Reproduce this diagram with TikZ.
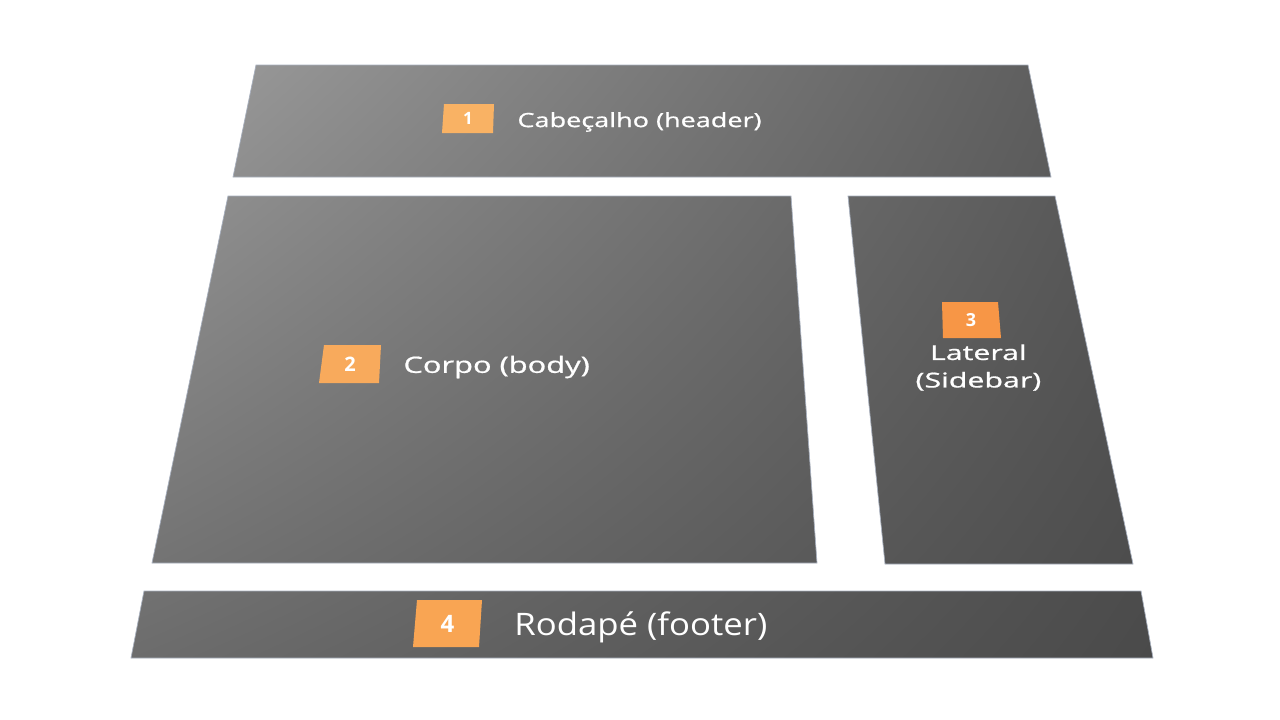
\documentclass[tikz,border=0pt]{standalone}
\usepackage{fontspec}
\setmainfont{Open Sans}
\newfontfamily\semifont{Open Sans}[FakeBold=0.7]
\usetikzlibrary{positioning,shadings}

\definecolor{shadeUL}{gray}{0.68}
\definecolor{shadeUR}{gray}{0.31}
\definecolor{shadeLL}{gray}{0.42}
\definecolor{shadeLR}{gray}{0.27}
\definecolor{panelEdge}{RGB}{168,176,190}
\definecolor{orangeA}{RGB}{249,178,100}
\definecolor{orangeB}{RGB}{248,170,92}
\definecolor{orangeC}{RGB}{247,150,70}
\definecolor{orangeD}{RGB}{249,165,83}

\begin{document}
\begin{tikzpicture}[x=1pt, y=-1pt,
  canvas/.style = {upper left=shadeUL, upper right=shadeUR, lower left=shadeLL, lower right=shadeLR},
  panel/.style = {draw=panelEdge, line width=0.7pt},
  num/.style = {text=white, inner sep=0pt, font=\bfseries\fontsize{#1}{#1}\selectfont},
  lbl/.style = {text=white, inner sep=0pt}]

  \useasboundingbox (0,0) rectangle (1280,720);

  % panels, one shading across the whole page
  \begin{scope}
    \clip (256,65) -- (1028,65) -- (1051,177) -- (233,177) -- cycle;
    \shade[canvas] (0,0) rectangle (1280,720);
  \end{scope}
  \begin{scope}
    \clip (228,196) -- (791,196) -- (817,563) -- (152,563) -- cycle;
    \shade[canvas] (0,0) rectangle (1280,720);
  \end{scope}
  \begin{scope}
    \clip (848,196) -- (1055,196) -- (1133,564) -- (885,564) -- cycle;
    \shade[canvas] (0,0) rectangle (1280,720);
  \end{scope}
  \begin{scope}
    \clip (144,591) -- (1141,591) -- (1153,658) -- (131,658) -- cycle;
    \shade[canvas] (0,0) rectangle (1280,720);
  \end{scope}
  \draw[panel] (256,65) -- (1028,65) -- (1051,177) -- (233,177) -- cycle;
  \draw[panel] (228,196) -- (791,196) -- (817,563) -- (152,563) -- cycle;
  \draw[panel] (848,196) -- (1055,196) -- (1133,564) -- (885,564) -- cycle;
  \draw[panel] (144,591) -- (1141,591) -- (1153,658) -- (131,658) -- cycle;

  % badges
  \fill[orangeA] (444,104) -- (494,104) -- (493,133) -- (442,133) -- cycle;
  \fill[orangeB] (324,345) -- (381,345) -- (379,383) -- (319,383) -- cycle;
  \fill[orangeC] (942,302) -- (998,302) -- (1001,338) -- (943,338) -- cycle;
  \fill[orangeD] (417,600) -- (482,600) -- (479,647) -- (413,647) -- cycle;
  \node[num=17, minimum width=51pt] (n1) at (468,118.5) {1};
  \node[num=20, minimum width=58pt] (n2) at (350,364) {2};
  \node[num=18, minimum width=58pt, minimum height=36pt] (n3) at (971,320) {3};
  \node[num=24, minimum width=67pt] (n4) at (447.5,623.5) {4};

  % labels
  \node[lbl, font=\semifont\fontsize{19.6}{19.6}\selectfont, xscale=1.38, right=23.5pt of n1, yshift=-3.5pt] (t1) {Cabeçalho (header)};
  \node[lbl, font=\semifont\fontsize{22.5}{22.5}\selectfont, xscale=1.37, right=24pt of n2, yshift=-3pt] (t2) {Corpo (body)};
  \node[lbl, font=\semifont\fontsize{20.5}{27.5}\selectfont, xscale=1.48, align=center, below=6pt of n3, xshift=5pt] (t3) {Lateral\\(Sidebar)};
  \node[lbl, font=\fontsize{31}{31}\selectfont, xscale=1.12, right=33pt of n4, yshift=-3.5pt] (t4) {Rodapé (footer)};

\end{tikzpicture}
\end{document}
